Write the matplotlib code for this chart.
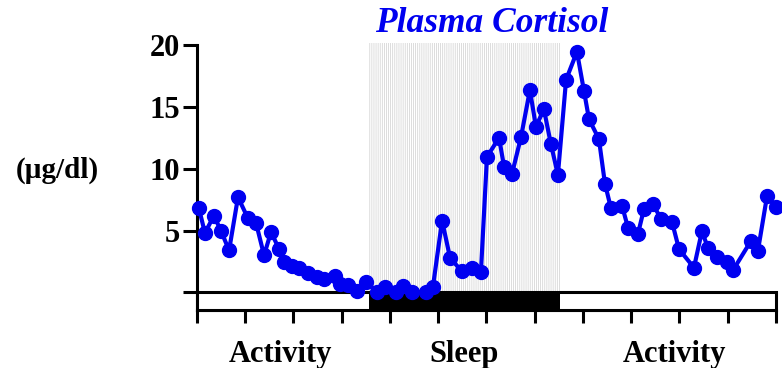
import numpy as np
import matplotlib.pyplot as plt
from matplotlib.patches import Rectangle

# clock hours from the start of the record, and plasma cortisol (ug/dl)
hours = [0.08, 0.33, 0.70, 0.99, 1.33, 1.70, 2.11, 2.45, 2.78, 3.07, 3.40, 3.61,
         3.94, 4.23, 4.60, 4.97, 5.26, 5.72, 5.93, 6.26, 6.63, 7.01, 7.46, 7.79,
         8.25, 8.54, 8.91, 9.49, 9.78, 10.16, 10.49, 10.98, 11.40, 11.77, 12.02,
         12.52, 12.73, 13.06, 13.43, 13.80, 14.05, 14.38, 14.67, 14.96, 15.30,
         15.75, 16.04, 16.25, 16.66, 16.91, 17.16, 17.62, 17.87, 18.28, 18.53,
         18.90, 19.23, 19.69, 19.98, 20.60, 20.93, 21.18, 21.55, 21.97, 22.22,
         22.96, 23.25, 23.63, 24.0]
cortisol = [6.8, 4.8, 6.2, 5.0, 3.4, 7.7, 6.0, 5.6, 3.0, 4.9, 3.5, 2.5,
            2.1, 2.0, 1.6, 1.25, 1.1, 1.3, 0.7, 0.6, 0.12, 0.85, 0.05, 0.45,
            0.05, 0.53, 0.05, 0.0, 0.45, 5.8, 2.8, 1.7, 2.0, 1.65, 10.95,
            12.5, 10.15, 9.6, 12.55, 16.35, 13.4, 14.8, 12.0, 9.5, 17.2,
            19.45, 16.3, 14.0, 12.4, 8.8, 6.8, 7.0, 5.2, 4.75, 6.75,
            7.15, 5.95, 5.7, 3.5, 2.0, 4.95, 3.6, 2.85, 2.45, 1.8,
            4.15, 3.35, 7.8, 6.9]

sleep_start, sleep_end = 7.13, 15.05
period_labels = ['Activity', 'Sleep', 'Activity']
period_pos = [3.44, 11.07, 19.8]
yticks = [0, 5, 10, 15, 20]
yticklabels = ['', '5', '10', '15', '20']

blue = '#0000f0'
plt.rcParams['font.family'] = ['Liberation Serif', 'DejaVu Serif']
plt.rcParams['hatch.linewidth'] = 0.5

fig = plt.figure(figsize=(7.82, 3.68), dpi=100)
ax = fig.add_axes([0.2519, 0.1576, 0.7404, 0.7269])
ax.set_xlim(0, 24)
ax.set_ylim(-1.42, 20.2)

# shaded sleep period
ax.add_patch(Rectangle((sleep_start, 0), sleep_end - sleep_start, 20.2,
                       facecolor='white', edgecolor='#cfcfcf', hatch='|' * 8,
                       linewidth=0, zorder=0))

# activity / sleep bar under the zero line
bar_h = 1.42
ax.add_patch(Rectangle((0, -bar_h), 24, bar_h, facecolor='white',
                       edgecolor='black', linewidth=2.2, zorder=3, clip_on=False))
ax.add_patch(Rectangle((sleep_start, -bar_h), sleep_end - sleep_start, bar_h,
                       facecolor='black', edgecolor='black', linewidth=0,
                       zorder=3))

ax.plot(hours, cortisol, color=blue, lw=3, marker='o', ms=10,
        zorder=4, clip_on=False)

for s in ['top', 'right']:
    ax.spines[s].set_visible(False)
ax.spines['left'].set_linewidth(2.2)
ax.spines['bottom'].set_linewidth(2.2)
ax.spines['left'].set_bounds(-1.42, 20)

ax.set_yticks(yticks)
ax.set_yticklabels(yticklabels, fontsize=22, fontweight='bold')
ax.set_xticks(np.arange(0, 25, 2))
ax.set_xticklabels([])
ax.tick_params(axis='y', length=10, width=2.2, pad=2)
ax.tick_params(axis='x', length=9.5, width=2.2)

for lab, pos in zip(period_labels, period_pos):
    ax.text(pos, -5.0, lab, ha='center', va='center', fontsize=22,
            fontweight='bold')

fig.text(57 / 782, 1 - 170 / 368, '(\u00b5g/dl)', ha='center', va='center',
         fontsize=21, fontweight='bold')
fig.text(492 / 782, 1 - 23 / 368, 'Plasma Cortisol', ha='center', va='center',
         fontsize=25.5, fontweight='bold', style='italic', color=blue)

fig.savefig('out.png', dpi=100)
